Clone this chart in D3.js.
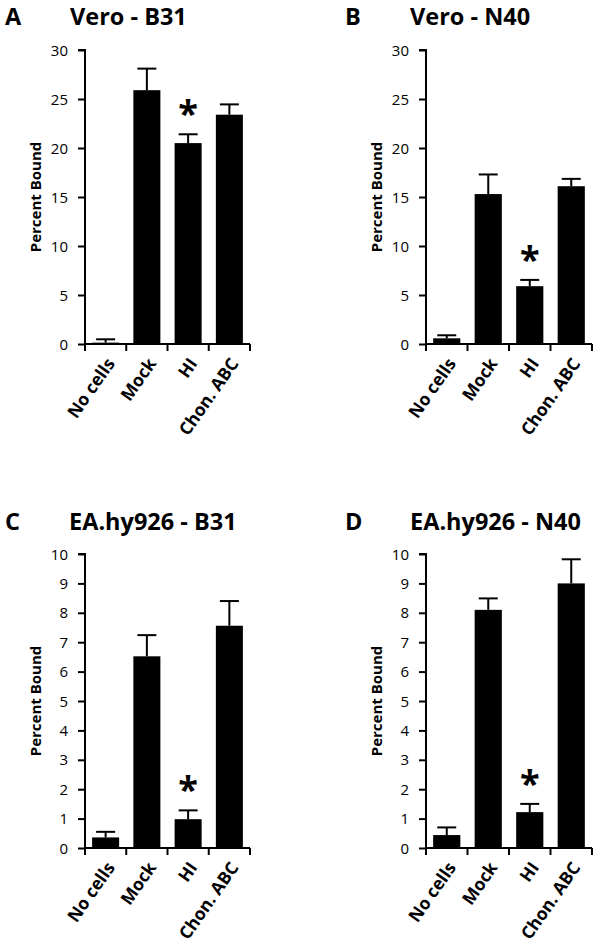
<!DOCTYPE html>
<html>
<head>
<meta charset="utf-8">
<script src="https://cdn.jsdelivr.net/npm/d3@7"></script>
<style>
  body { margin: 0; background: #fff; }
  text { font-family: "Open Sans", sans-serif; fill: #000; }
</style>
</head>
<body>
<svg id="fig" width="600" height="949"></svg>
<script>
// data
const categories = ["No cells", "Mock", "HI", "Chon. ABC"];
const panelLetters = ["A", "B", "C", "D"];
const panelTitles = ["Vero - B31", "Vero - N40", "EA.hy926 - B31", "EA.hy926 - N40"];
const yMaxes = [30, 30, 10, 10];
const yTickSteps = [5, 5, 1, 1];

const meansA = [0.14, 25.9, 20.5, 23.4];
const errorsA = [0.34, 2.2, 0.9, 1.05];
const meansB = [0.58, 15.3, 5.9, 16.1];
const errorsB = [0.31, 2.0, 0.64, 0.75];
const meansC = [0.36, 6.52, 0.98, 7.56];
const errorsC = [0.19, 0.72, 0.3, 0.84];
const meansD = [0.44, 8.1, 1.22, 9.0];
const errorsD = [0.26, 0.39, 0.28, 0.82];

const significant = ["HI"];

const allMeans = [meansA, meansB, meansC, meansD];
const allErrors = [errorsA, errorsB, errorsC, errorsD];

const svg = d3.select("#fig");

// panel frames
const layout = [
  { left: 85, right: 250, top: 50, bottom: 344, titleY: 25, letterX: 5, titleX: 70 },
  { left: 426, right: 592, top: 50, bottom: 344, titleY: 25, letterX: 345, titleX: 410 },
  { left: 85, right: 250, top: 554, bottom: 848, titleY: 530, letterX: 5, titleX: 69 },
  { left: 426, right: 592, top: 554, bottom: 848, titleY: 530, letterX: 345, titleX: 410 }
];

layout.forEach((L, i) => {
  const g = svg.append("g");
  const data = categories.map((c, k) => ({ cat: c, mean: allMeans[i][k], err: allErrors[i][k] }));

  const x = d3.scaleBand()
    .domain(categories)
    .range([L.left, L.right])
    .paddingInner(0.345)
    .paddingOuter(0.1725);
  const y = d3.scaleLinear().domain([0, yMaxes[i]]).range([L.bottom, L.top]);
  const step = x.step();

  // titles
  g.append("text").attr("x", L.letterX).attr("y", L.titleY)
    .attr("font-size", 23.5).attr("font-weight", 700).text(panelLetters[i]);
  g.append("text").attr("x", L.titleX).attr("y", L.titleY)
    .attr("font-size", 23.5).attr("font-weight", 700).text(panelTitles[i]);

  // bars
  g.selectAll("rect.bar").data(data).enter().append("rect")
    .attr("class", "bar")
    .attr("x", d => x(d.cat))
    .attr("y", d => y(d.mean))
    .attr("width", x.bandwidth())
    .attr("height", d => y(0) - y(d.mean))
    .attr("fill", "#000");

  // error bars (upper only)
  const eb = g.selectAll("g.err").data(data).enter().append("g").attr("class", "err");
  eb.append("line")
    .attr("x1", d => x(d.cat) + x.bandwidth() / 2)
    .attr("x2", d => x(d.cat) + x.bandwidth() / 2)
    .attr("y1", d => y(d.mean))
    .attr("y2", d => y(d.mean + d.err))
    .attr("stroke", "#000").attr("stroke-width", 2);
  eb.append("line")
    .attr("x1", d => x(d.cat) + x.bandwidth() / 2 - 9.5)
    .attr("x2", d => x(d.cat) + x.bandwidth() / 2 + 9.5)
    .attr("y1", d => y(d.mean + d.err))
    .attr("y2", d => y(d.mean + d.err))
    .attr("stroke", "#000").attr("stroke-width", 2);

  // significance star
  g.selectAll("text.star").data(data.filter(d => significant.includes(d.cat))).enter()
    .append("text").attr("class", "star")
    .attr("x", d => x(d.cat) + x.bandwidth() / 2)
    .attr("y", d => y(d.mean + d.err) - 8)
    .attr("text-anchor", "middle")
    .attr("font-size", 36).attr("font-weight", 700)
    .text("*");

  // y axis
  const yAxis = d3.axisLeft(y)
    .tickValues(d3.range(0, yMaxes[i] + 0.001, yTickSteps[i]))
    .tickSize(7).tickPadding(10).tickFormat(d3.format("d"));
  const ya = g.append("g").attr("transform", `translate(${L.left},0)`).call(yAxis);
  ya.select(".domain").attr("stroke-width", 2).attr("d", `M-7,${L.top}H0V${L.bottom}`);
  ya.selectAll(".tick line").attr("stroke-width", 2);
  ya.selectAll(".tick text").attr("font-size", 15).attr("font-family", "Open Sans").attr("dy", "0.34em");

  // x axis line with ticks at band boundaries
  const bounds = categories.map(c => x(c) - step * x.paddingInner() / 2).concat([L.right]);
  g.append("line").attr("x1", L.left).attr("x2", L.right)
    .attr("y1", L.bottom).attr("y2", L.bottom)
    .attr("stroke", "#000").attr("stroke-width", 2);
  g.selectAll("line.xt").data(bounds).enter().append("line").attr("class", "xt")
    .attr("x1", d => d).attr("x2", d => d)
    .attr("y1", L.bottom).attr("y2", L.bottom + 7)
    .attr("stroke", "#000").attr("stroke-width", 2);

  // x labels rotated
  g.selectAll("text.xl").data(categories).enter().append("text").attr("class", "xl")
    .attr("transform", c => `translate(${x(c) + x.bandwidth() / 2 + 5},${L.bottom + 16}) rotate(-55)`)
    .attr("text-anchor", "end")
    .attr("dy", "0.35em")
    .attr("font-size", 17.5).attr("font-weight", 700)
    .text(c => c);

  // y axis title
  g.append("text")
    .attr("transform", `translate(${L.left - 44},${(L.top + L.bottom) / 2}) rotate(-90)`)
    .attr("text-anchor", "middle")
    .attr("font-size", 15).attr("font-weight", 700)
    .text("Percent Bound");
});
</script>
</body>
</html>
